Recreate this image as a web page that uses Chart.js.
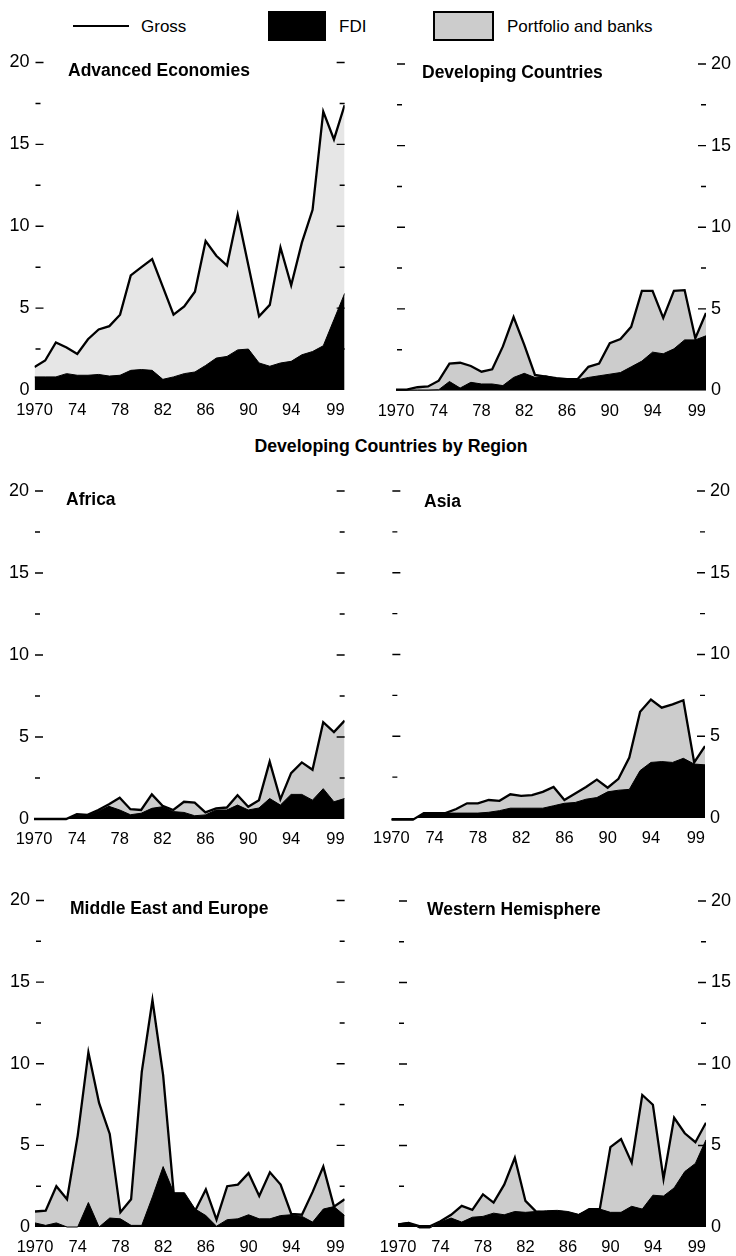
<!DOCTYPE html>
<html>
<head>
<meta charset="utf-8">
<script src="https://cdn.jsdelivr.net/npm/chart.js@4.4.1/dist/chart.umd.min.js"></script>
<style>
  body {
    margin: 0;
    width: 736px;
    height: 1256px;
    position: relative;
    overflow: hidden;
    background: #fff;
    font-family: "Liberation Sans", Arial, Helvetica, sans-serif;
    color: #000;
  }
  canvas { position: absolute; }
  .title {
    position: absolute;
    font-weight: bold;
    font-size: 17.5px;
    line-height: 1;
    white-space: nowrap;
  }
  .lg-text {
    position: absolute;
    font-size: 17px;
    line-height: 1;
    white-space: nowrap;
  }
  .lg-swatch { position: absolute; box-sizing: border-box; }
</style>
</head>
<body>

<!-- legend -->
<div class="lg-swatch" style="left:73px;top:25px;width:56px;height:2px;background:#000"></div>
<div class="lg-text" style="left:141px;top:17.7px">Gross</div>
<div class="lg-swatch" style="left:268px;top:11px;width:58px;height:30px;background:#000"></div>
<div class="lg-text" style="left:339px;top:17.7px">FDI</div>
<div class="lg-swatch" style="left:433px;top:11px;width:61px;height:30px;background:#cccccc;border:2px solid #000"></div>
<div class="lg-text" style="left:507px;top:17.7px">Portfolio and banks</div>

<div id="charts"></div>

<div class="title" style="left:68px;top:61.9px">Advanced Economies</div>
<div class="title" style="left:422px;top:63.9px">Developing Countries</div>
<div class="title" style="left:391px;top:437.7px;transform:translateX(-50%);font-size:17.7px">Developing Countries by Region</div>
<div class="title" style="left:66px;top:491.2px">Africa</div>
<div class="title" style="left:424px;top:493.2px">Asia</div>
<div class="title" style="left:70px;top:900.2px">Middle East and Europe</div>
<div class="title" style="left:427px;top:901.2px">Western Hemisphere</div>

<script>
/* ── Data (percent, 1970–99) ─────────────────────────────────── */
const years = [1970, 1971, 1972, 1973, 1974, 1975, 1976, 1977, 1978, 1979,
               1980, 1981, 1982, 1983, 1984, 1985, 1986, 1987, 1988, 1989,
               1990, 1991, 1992, 1993, 1994, 1995, 1996, 1997, 1998, 1999];
const xTickYears  = [1970, 1974, 1978, 1982, 1986, 1990, 1994, 1999];
const yTickValues = [0, 2.5, 5, 7.5, 10, 12.5, 15, 17.5, 20];

const advancedGross   = [1.4, 1.8, 2.9, 2.6, 2.2, 3.1, 3.7, 3.9, 4.6, 7.0, 7.5, 8.0, 6.3, 4.6, 5.1,
                         6.0, 9.1, 8.2, 7.6, 10.7, 7.6, 4.5, 5.2, 8.7, 6.4, 9.0, 11.0, 17.0, 15.3, 17.4];
const advancedFdi     = [0.8, 0.8, 0.8, 1.0, 0.9, 0.9, 0.95, 0.85, 0.9, 1.2, 1.25, 1.2, 0.65, 0.8, 1.0,
                         1.1, 1.5, 1.95, 2.05, 2.45, 2.5, 1.65, 1.45, 1.65, 1.75, 2.15, 2.35, 2.7, 4.3, 5.9];

const developingGross = [0.05, 0.05, 0.2, 0.25, 0.6, 1.65, 1.7, 1.5, 1.15, 1.3, 2.7, 4.5, 2.8, 0.95, 0.85,
                         0.75, 0.7, 0.7, 1.45, 1.65, 2.9, 3.15, 3.9, 6.1, 6.1, 4.45, 6.1, 6.15, 3.2, 4.75];
const developingFdi   = [0.03, 0.03, 0.03, 0.03, 0.05, 0.55, 0.15, 0.5, 0.4, 0.4, 0.3, 0.8, 1.05, 0.8, 0.9,
                         0.75, 0.7, 0.65, 0.8, 0.9, 1.0, 1.1, 1.45, 1.8, 2.35, 2.25, 2.55, 3.1, 3.1, 3.35];

const africaGross     = [0, 0, 0, 0, 0.3, 0.25, 0.55, 0.9, 1.3, 0.6, 0.55, 1.5, 0.8, 0.55, 1.05,
                         1.0, 0.4, 0.65, 0.7, 1.45, 0.75, 1.15, 3.5, 1.2, 2.8, 3.45, 3.0, 5.9, 5.3, 6.0];
const africaFdi       = [0, 0, 0, 0, 0.25, 0.2, 0.47, 0.77, 0.55, 0.26, 0.35, 0.65, 0.75, 0.45, 0.4,
                         0.2, 0.25, 0.55, 0.55, 0.85, 0.55, 0.67, 1.25, 0.85, 1.5, 1.5, 1.15, 1.85, 1.05, 1.25];

const asiaGross       = [-0.1, -0.1, -0.1, 0.3, 0.3, 0.3, 0.55, 0.9, 0.9, 1.1, 1.05, 1.45, 1.35, 1.4, 1.6,
                         1.9, 1.1, 1.5, 1.9, 2.35, 1.85, 2.4, 3.7, 6.5, 7.25, 6.75, 6.95, 7.2, 3.4, 4.4];
const asiaFdi         = [-0.1, -0.1, -0.1, 0.3, 0.3, 0.3, 0.3, 0.3, 0.3, 0.35, 0.45, 0.6, 0.6, 0.6, 0.6,
                         0.75, 0.9, 0.95, 1.15, 1.25, 1.6, 1.7, 1.75, 2.9, 3.4, 3.45, 3.4, 3.65, 3.3, 3.25];

const mideastGross    = [0.95, 1.0, 2.5, 1.7, 5.6, 10.7, 7.6, 5.7, 0.9, 1.7, 9.5, 13.9, 9.3, 2.0, 1.6,
                         1.0, 2.3, 0.45, 2.5, 2.6, 3.3, 1.9, 3.35, 2.6, 0.8, 0.75, 2.15, 3.7, 1.25, 1.7];
const mideastFdi      = [0.25, 0.1, 0.25, 0, 0, 1.5, 0, 0.55, 0.5, 0.1, 0.1, 1.85, 3.7, 2.1, 2.1,
                         1.1, 0.7, 0.05, 0.45, 0.5, 0.75, 0.5, 0.5, 0.7, 0.75, 0.65, 0.3, 1.1, 1.25, 0.7];

const westernGross    = [0.15, 0.25, 0.05, 0.05, 0.35, 0.75, 1.3, 1.05, 2.0, 1.5, 2.6, 4.25, 1.6, 0.95, 0.9,
                         0.9, 0.85, 0.7, 1.1, 1.1, 4.9, 5.4, 3.95, 8.1, 7.5, 2.95, 6.7, 5.75, 5.2, 6.4];
const westernFdi      = [0.2, 0.28, -0.06, -0.06, 0.3, 0.55, 0.3, 0.6, 0.65, 0.85, 0.75, 0.95, 0.9, 0.95, 1.0,
                         1.02, 0.95, 0.78, 1.1, 1.1, 0.9, 0.9, 1.27, 1.1, 1.95, 1.9, 2.4, 3.4, 3.9, 5.35];

/* ── Panel layout (page px: plot left/right, y of 20 and of 0) ── */
const FONT  = '"Liberation Sans", Arial, Helvetica, sans-serif';
const Y_MIN = -0.35;   // a little room under zero for small negative flows

const panels = [
  { gross: advancedGross,   fdi: advancedFdi,   fill: '#e6e6e6', side: 'left',  x: 0,   left: 34.5, right: 347, y20: 62.5,  y0: 390 },
  { gross: developingGross, fdi: developingFdi, fill: '#cccccc', side: 'right', x: 368, left: 396,  right: 706, y20: 64,    y0: 390.5 },
  { gross: africaGross,     fdi: africaFdi,     fill: '#cccccc', side: 'left',  x: 0,   left: 34,   right: 347, y20: 491,   y0: 819 },
  { gross: asiaGross,       fdi: asiaFdi,       fill: '#cccccc', side: 'right', x: 368, left: 390,  right: 705, y20: 491,   y0: 818 },
  { gross: mideastGross,    fdi: mideastFdi,    fill: '#cccccc', side: 'left',  x: 0,   left: 35,   right: 347, y20: 900.5, y0: 1227 },
  { gross: westernGross,    fdi: westernFdi,    fill: '#cccccc', side: 'right', x: 368, left: 398,  right: 706, y20: 901,   y0: 1227 }
];

Chart.defaults.font.family = FONT;
Chart.defaults.color = '#000';

/* short dashes on both sides of every plot, drawn over the areas */
const tickDashes = {
  id: 'tickDashes',
  afterDatasetsDraw(chart) {
    const { ctx, chartArea: a, scales: { y } } = chart;
    ctx.save();
    ctx.strokeStyle = '#000';
    ctx.lineWidth = 1.4;
    yTickValues.forEach(v => {
      if (v === 0) return;
      const py  = y.getPixelForValue(v);
      const len = v % 5 === 0 ? 8 : 5;
      ctx.beginPath();
      ctx.moveTo(a.left + 1, py);
      ctx.lineTo(a.left + 1 + len, py);
      ctx.moveTo(a.right - len, py);
      ctx.lineTo(a.right, py);
      ctx.stroke();
    });
    ctx.restore();
  }
};

const yearLabel = v => {
  if (v === 1970) return '1970';
  const s = String(v).slice(2);
  return v === 1999 ? s + '    ' : s;   // keep "99" inside the right edge
};

function renderPanel(p) {
  const canvasTop    = Math.round(p.y20 - 22);
  const canvasBottom = Math.min(1256, Math.round(p.y0 + 32));
  const ppu          = (p.y0 - p.y20) / 20;
  const areaBottom   = p.y0 - Y_MIN * ppu;

  const cv = document.createElement('canvas');
  cv.width  = 368;
  cv.height = canvasBottom - canvasTop;
  cv.style.left = p.x + 'px';
  cv.style.top  = canvasTop + 'px';
  document.getElementById('charts').appendChild(cv);

  const yAxisW = p.side === 'left' ? p.left - p.x : p.x + 368 - p.right;
  const pad = p.side === 'left'
    ? { left: 0, right: p.x + 368 - p.right, top: p.y20 - canvasTop, bottom: 0 }
    : { left: p.left - p.x, right: 0, top: p.y20 - canvasTop, bottom: 0 };

  const pts = vals => years.map((yr, i) => ({ x: yr, y: vals[i] }));

  new Chart(cv, {
    type: 'line',
    data: {
      datasets: [
        {
          label: 'FDI',
          data: pts(p.fdi),
          fill: 'origin',
          backgroundColor: '#000',
          borderColor: '#000',
          borderWidth: 1,
          pointRadius: 0,
          tension: 0
        },
        {
          label: 'Gross',
          data: pts(p.gross),
          fill: 'origin',
          backgroundColor: p.fill,
          borderColor: '#000',
          borderWidth: 2.3,
          borderJoinStyle: 'miter',
          pointRadius: 0,
          tension: 0
        }
      ]
    },
    options: {
      responsive: false,
      animation: false,
      layout: { padding: pad },
      plugins: { legend: { display: false }, tooltip: { enabled: false } },
      scales: {
        x: {
          type: 'linear',
          min: 1970,
          max: 1999,
          afterBuildTicks: s => { s.ticks = xTickYears.map(v => ({ value: v })); },
          afterFit: s => { s.height = canvasBottom - areaBottom; },
          grid: { display: false, drawTicks: false },
          border: { display: false },
          ticks: {
            autoSkip: false,
            maxRotation: 0,
            padding: 5,
            color: '#000',
            font: { size: 16.5 },
            callback: v => yearLabel(v)
          }
        },
        y: {
          position: p.side,
          min: Y_MIN,
          max: 20,
          afterBuildTicks: s => { s.ticks = yTickValues.map(v => ({ value: v })); },
          afterFit: s => { s.width = yAxisW; },
          grid: { display: false, drawTicks: false },
          border: { display: false },
          ticks: {
            padding: 5,
            color: '#000',
            font: { size: 18 },
            callback: v => (v % 5 === 0 ? String(v) : '')
          }
        }
      }
    },
    plugins: [tickDashes]
  });
}

panels.forEach(renderPanel);
</script>
</body>
</html>
